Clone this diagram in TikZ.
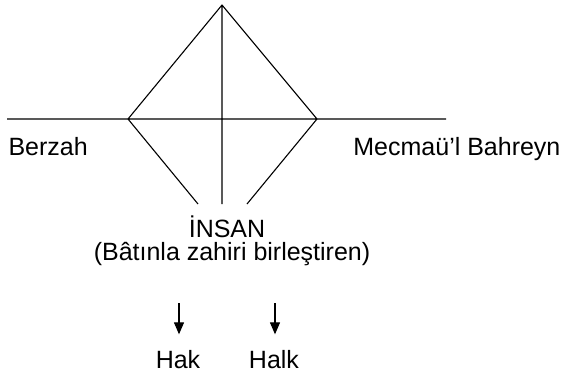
\documentclass[tikz,border=0pt]{standalone}
\usepackage{fontspec}
\setmainfont{Liberation Sans}
\usetikzlibrary{arrows.meta}
\begin{document}
\begin{tikzpicture}[x=1pt, y=-1pt, line width=1.1pt, line join=round, font=\fontsize{25}{25}\selectfont, >={Triangle[length=12pt,width=10pt]}]
			\useasboundingbox (0,0) rectangle (562,375);
			\path
			(222,5)coordinate(T)
			(128,119)coordinate(L)
			(317,119)coordinate(R)
			(7,119)coordinate(W)
			(446,119)coordinate(E)
			(198,204)coordinate(LB)
			(247,204)coordinate(RB)
			(222,204)coordinate(MB)
			(179,303)coordinate(hakTop)
			(275,303)coordinate(halkTop)
			;
			\draw (L)--(T)--(R) (W)--(E) (T)--(MB) (L)--(LB) (R)--(RB);
			\tikzset{every node/.style={inner sep=0pt}}
			\node[anchor=base west] (berzah) at (8,155) {Berzah};
			\node[anchor=base east] (mecma) at (561,155) {Mecmaü’l Bahreyn};
			\node[anchor=base] (insan) at (227,237) {İNSAN};
			\node[anchor=base] (batin) at (232,260) {(Bâtınla zahiri birleştiren)};
			\node[anchor=base] (hak) at (178,368) {Hak};
			\node[anchor=base] (halk) at (274,368) {Halk};
			\draw[->, shorten >=15pt] (hakTop)--(hakTop|-hak.north);
			\draw[->, shorten >=15pt] (halkTop)--(halkTop|-halk.north);
			\end{tikzpicture}
\end{document}
